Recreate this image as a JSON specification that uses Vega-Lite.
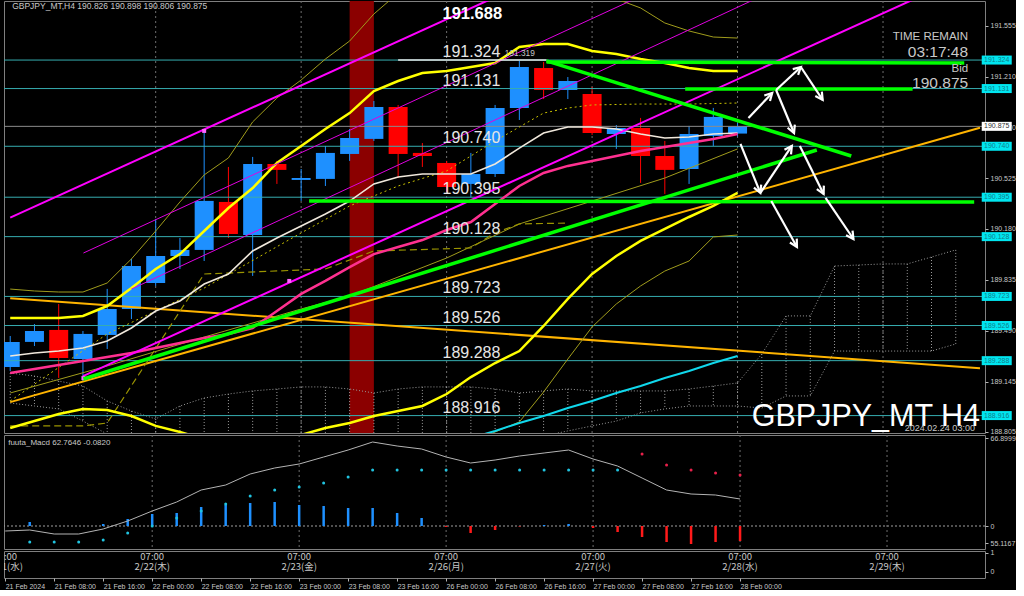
{
"$schema":"https://vega.github.io/schema/vega-lite/v6.json",
"background":"#000000",
"padding":{"left":2,"top":0,"right":0,"bottom":0},
"bounds":"flush",
"spacing":2,
"config":{"view":{"stroke":"#7f7f7f","strokeWidth":1},"text":{"font":"Liberation Sans"}},
"datasets":{
"band":[{"i":14,"i2":15}],
"vg":[{"i":6},{"i":12},{"i":18},{"i":24},{"i":30},{"i":36}],
"candles":[
{"i":0,"o":189.245,"h":189.455,"l":189.218,"c":189.415},
{"i":1,"o":189.415,"h":189.536,"l":189.387,"c":189.489},
{"i":2,"o":189.496,"h":189.672,"l":189.171,"c":189.306},
{"i":3,"o":189.299,"h":189.489,"l":189.150,"c":189.469},
{"i":4,"o":189.462,"h":189.774,"l":189.367,"c":189.638},
{"i":5,"o":189.638,"h":189.977,"l":189.570,"c":189.929},
{"i":6,"o":189.814,"h":190.248,"l":189.794,"c":189.997},
{"i":7,"o":189.997,"h":190.119,"l":189.909,"c":190.038},
{"i":8,"o":190.038,"h":190.844,"l":189.963,"c":190.370},
{"i":9,"o":190.363,"h":190.600,"l":190.119,"c":190.146},
{"i":10,"o":190.139,"h":190.668,"l":189.862,"c":190.620},
{"i":11,"o":190.620,"h":190.641,"l":190.485,"c":190.580},
{"i":12,"o":190.512,"h":190.586,"l":190.370,"c":190.525},
{"i":13,"o":190.519,"h":190.742,"l":190.471,"c":190.695},
{"i":14,"o":190.688,"h":190.857,"l":190.641,"c":190.796},
{"i":15,"o":190.790,"h":191.047,"l":190.776,"c":191.006},
{"i":16,"o":191.006,"h":191.020,"l":190.525,"c":190.688},
{"i":17,"o":190.695,"h":190.762,"l":190.600,"c":190.674},
{"i":18,"o":190.627,"h":190.641,"l":190.430,"c":190.464},
{"i":19,"o":190.485,"h":190.695,"l":190.395,"c":190.552},
{"i":20,"o":190.552,"h":191.020,"l":190.532,"c":190.999},
{"i":21,"o":190.999,"h":191.319,"l":190.918,"c":191.277},
{"i":22,"o":191.270,"h":191.311,"l":191.060,"c":191.121},
{"i":23,"o":191.121,"h":191.209,"l":191.060,"c":191.182},
{"i":24,"o":191.094,"h":191.142,"l":190.817,"c":190.830},
{"i":25,"o":190.823,"h":190.884,"l":190.722,"c":190.864},
{"i":26,"o":190.864,"h":190.932,"l":190.492,"c":190.674},
{"i":27,"o":190.674,"h":190.776,"l":190.417,"c":190.580},
{"i":28,"o":190.586,"h":190.878,"l":190.485,"c":190.823},
{"i":29,"o":190.810,"h":191.000,"l":190.742,"c":190.939},
{"i":30,"o":190.826,"h":190.898,"l":190.806,"c":190.875}
],
"cloud":[
{"i":0,"u":189.204,"l":189.001},{"i":1,"u":189.184,"l":188.981},{"i":2,"u":189.150,"l":188.961},{"i":3,"u":189.116,"l":188.879},
{"i":4,"u":189.015,"l":188.791},{"i":5,"u":188.947,"l":188.744},{"i":6,"u":188.893,"l":188.710},{"i":7,"u":188.981,"l":188.676},
{"i":8,"u":189.035,"l":188.676},{"i":9,"u":189.062,"l":188.676},{"i":10,"u":189.083,"l":188.676},{"i":11,"u":189.096,"l":188.676},
{"i":12,"u":189.110,"l":188.676},{"i":13,"u":189.110,"l":188.676},{"i":14,"u":189.096,"l":188.676},{"i":15,"u":189.069,"l":188.676},
{"i":16,"u":189.096,"l":188.676},{"i":17,"u":189.110,"l":188.676},{"i":18,"u":189.110,"l":188.676},{"i":19,"u":189.110,"l":188.676},
{"i":20,"u":189.096,"l":188.710},{"i":21,"u":189.069,"l":188.744},{"i":22,"u":189.083,"l":188.778},{"i":23,"u":189.096,"l":188.812},
{"i":24,"u":189.083,"l":188.846},{"i":25,"u":189.083,"l":188.879},{"i":26,"u":189.083,"l":188.934},{"i":27,"u":189.083,"l":188.961},
{"i":28,"u":189.096,"l":188.981},{"i":29,"u":189.116,"l":188.981},{"i":30,"u":189.137,"l":188.981},{"i":31,"u":189.333,"l":188.967},
{"i":32,"u":189.591,"l":189.049},{"i":33,"u":189.591,"l":189.049},{"i":34,"u":189.929,"l":189.353},{"i":35,"u":189.936,"l":189.353},
{"i":36,"u":189.943,"l":189.353},{"i":37,"u":189.943,"l":189.353},{"i":38,"u":189.990,"l":189.353},{"i":39,"u":190.038,"l":189.401}
],
"lv":[{"p":191.324,"t":"191.324"},{"p":191.131,"t":"191.131"},{"p":190.740,"t":"190.740"},{"p":190.395,"t":"190.395"},{"p":190.128,"t":"190.128"},{"p":189.723,"t":"189.723"},{"p":189.526,"t":"189.526"},{"p":189.288,"t":"189.288"},{"p":188.916,"t":"188.916"}],
"bid":[{"p":190.875}],
"bx":[{"p":191.324,"t":"191.324","k":"c"},{"p":191.131,"t":"191.131","k":"c"},{"p":190.875,"t":"190.875","k":"w"},{"p":190.740,"t":"190.740","k":"c"},{"p":190.395,"t":"190.395","k":"c"},{"p":190.128,"t":"190.128","k":"c"},{"p":189.723,"t":"189.723","k":"c"},{"p":189.526,"t":"189.526","k":"c"},{"p":189.288,"t":"189.288","k":"c"},{"p":188.916,"t":"188.916","k":"c"}],
"md":[{"i":8,"p":190.844},{"i":3.02,"p":189.170},{"i":11.51,"p":189.828}],
"heads":[{"i":31.43,"p":191.101,"a":43.8},{"i":32.61,"p":191.277,"a":47.4},{"i":33.51,"p":191.054,"a":146.3},{"i":32.33,"p":190.830,"a":157.3},{"i":30.94,"p":190.424,"a":157.8},{"i":32.24,"p":190.742,"a":34.2},{"i":33.55,"p":190.417,"a":153.4},{"i":34.78,"p":190.112,"a":145.7},{"i":32.45,"p":190.058,"a":150.5}],
"tx":[
{"k":"hd","i":0.08,"p":191.690,"t":"GBPJPY_MT,H4  190.826 190.898 190.806 190.875"},
{"k":"hi","i":17.83,"p":191.636,"t":"191.688"},
{"k":"sm","i":20.4,"p":191.365,"t":"191.319"},
{"k":"tr","i":39.51,"p":191.480,"t":"TIME REMAIN"},
{"k":"tb","i":39.51,"p":191.379,"t":"03:17:48"},
{"k":"tr","i":39.51,"p":191.263,"t":"Bid"},
{"k":"tb","i":39.51,"p":191.169,"t":"190.875"},
{"k":"big","i":40.0,"p":188.906,"t":"GBPJPY_MT H4"},
{"k":"dt","i":39.79,"p":188.832,"t":"2024.02.24 03:00"}
],
"lines":[
{"s":"ub","i":0,"p":189.577},{"s":"ub","i":1,"p":189.577},{"s":"ub","i":2,"p":189.577},{"s":"ub","i":3,"p":189.591},{"s":"ub","i":4,"p":189.658},{"s":"ub","i":5,"p":189.780},{"s":"ub","i":6,"p":189.909},{"s":"ub","i":7,"p":190.010},{"s":"ub","i":8,"p":190.166},{"s":"ub","i":9,"p":190.322},{"s":"ub","i":10,"p":190.457},{"s":"ub","i":11,"p":190.627},{"s":"ub","i":12,"p":190.742},{"s":"ub","i":13,"p":190.857},{"s":"ub","i":14,"p":190.965},{"s":"ub","i":15,"p":191.114},{"s":"ub","i":16,"p":191.182},{"s":"ub","i":17,"p":191.236},{"s":"ub","i":18,"p":191.250},{"s":"ub","i":19,"p":191.277},{"s":"ub","i":20,"p":191.304},{"s":"ub","i":21,"p":191.412},{"s":"ub","i":22,"p":191.433},{"s":"ub","i":23,"p":191.433},{"s":"ub","i":24,"p":191.385},{"s":"ub","i":25,"p":191.365},{"s":"ub","i":26,"p":191.331},{"s":"ub","i":27,"p":191.304},{"s":"ub","i":28,"p":191.270},{"s":"ub","i":29,"p":191.250},{"s":"ub","i":30,"p":191.250},
{"s":"lb","i":0,"p":188.832},{"s":"lb","i":1,"p":188.879},{"s":"lb","i":2,"p":188.927},{"s":"lb","i":3,"p":188.961},{"s":"lb","i":4,"p":188.954},{"s":"lb","i":5,"p":188.913},{"s":"lb","i":6,"p":188.846},{"s":"lb","i":7,"p":188.805},{"s":"lb","i":8,"p":188.757},{"s":"lb","i":9,"p":188.737},{"s":"lb","i":10,"p":188.730},{"s":"lb","i":11,"p":188.744},{"s":"lb","i":12,"p":188.785},{"s":"lb","i":13,"p":188.832},{"s":"lb","i":14,"p":188.866},{"s":"lb","i":15,"p":188.913},{"s":"lb","i":16,"p":188.947},{"s":"lb","i":17,"p":188.981},{"s":"lb","i":18,"p":189.062},{"s":"lb","i":19,"p":189.177},{"s":"lb","i":20,"p":189.272},{"s":"lb","i":21,"p":189.353},{"s":"lb","i":22,"p":189.523},{"s":"lb","i":23,"p":189.706},{"s":"lb","i":24,"p":189.875},{"s":"lb","i":25,"p":189.997},{"s":"lb","i":26,"p":190.099},{"s":"lb","i":27,"p":190.180},{"s":"lb","i":28,"p":190.261},{"s":"lb","i":29,"p":190.336},{"s":"lb","i":30,"p":190.424},
{"s":"ma","i":0,"p":189.320},{"s":"ma","i":1,"p":189.340},{"s":"ma","i":2,"p":189.353},{"s":"ma","i":3,"p":189.374},{"s":"ma","i":4,"p":189.421},{"s":"ma","i":5,"p":189.509},{"s":"ma","i":6,"p":189.624},{"s":"ma","i":7,"p":189.692},{"s":"ma","i":8,"p":189.807},{"s":"ma","i":9,"p":189.875},{"s":"ma","i":10,"p":190.031},{"s":"ma","i":11,"p":190.119},{"s":"ma","i":12,"p":190.200},{"s":"ma","i":13,"p":190.281},{"s":"ma","i":14,"p":190.369},{"s":"ma","i":15,"p":190.485},{"s":"ma","i":16,"p":190.532},{"s":"ma","i":17,"p":190.552},{"s":"ma","i":18,"p":190.552},{"s":"ma","i":19,"p":190.552},{"s":"ma","i":20,"p":190.620},{"s":"ma","i":21,"p":190.728},{"s":"ma","i":22,"p":190.830},{"s":"ma","i":23,"p":190.871},{"s":"ma","i":24,"p":190.871},{"s":"ma","i":25,"p":190.857},{"s":"ma","i":26,"p":190.823},{"s":"ma","i":27,"p":190.796},{"s":"ma","i":28,"p":190.803},{"s":"ma","i":29,"p":190.823},{"s":"ma","i":30,"p":190.830},
{"s":"pk","i":0,"p":189.204},{"s":"pk","i":1,"p":189.232},{"s":"pk","i":2,"p":189.259},{"s":"pk","i":3,"p":189.286},{"s":"pk","i":4,"p":189.313},{"s":"pk","i":5,"p":189.340},{"s":"pk","i":6,"p":189.374},{"s":"pk","i":7,"p":189.408},{"s":"pk","i":8,"p":189.442},{"s":"pk","i":9,"p":189.469},{"s":"pk","i":10,"p":189.509},{"s":"pk","i":11,"p":189.624},{"s":"pk","i":12,"p":189.740},{"s":"pk","i":13,"p":189.828},{"s":"pk","i":14,"p":189.922},{"s":"pk","i":15,"p":190.010},{"s":"pk","i":16,"p":190.058},{"s":"pk","i":17,"p":190.105},{"s":"pk","i":18,"p":190.173},{"s":"pk","i":19,"p":190.227},{"s":"pk","i":20,"p":190.349},{"s":"pk","i":21,"p":190.471},{"s":"pk","i":22,"p":190.559},{"s":"pk","i":23,"p":190.607},{"s":"pk","i":24,"p":190.640},{"s":"pk","i":25,"p":190.674},{"s":"pk","i":26,"p":190.708},{"s":"pk","i":27,"p":190.735},{"s":"pk","i":28,"p":190.762},{"s":"pk","i":29,"p":190.789},{"s":"pk","i":30,"p":190.823},
{"s":"uo","i":0,"p":189.773},{"s":"uo","i":1,"p":189.760},{"s":"uo","i":2,"p":189.753},{"s":"uo","i":3,"p":189.753},{"s":"uo","i":4,"p":189.814},{"s":"uo","i":5,"p":189.977},{"s":"uo","i":6,"p":190.166},{"s":"uo","i":7,"p":190.363},{"s":"uo","i":8,"p":190.546},{"s":"uo","i":9,"p":190.661},{"s":"uo","i":10,"p":190.905},{"s":"uo","i":11,"p":191.067},{"s":"uo","i":12,"p":191.189},{"s":"uo","i":13,"p":191.331},{"s":"uo","i":14,"p":191.453},{"s":"uo","i":15,"p":191.636},{"s":"uo","i":16,"p":191.778},{"s":"uo","i":17,"p":191.859},{"s":"uo","i":18,"p":191.893},{"s":"uo","i":19,"p":191.893},{"s":"uo","i":20,"p":191.893},{"s":"uo","i":21,"p":191.961},{"s":"uo","i":22,"p":191.961},{"s":"uo","i":23,"p":191.927},{"s":"uo","i":24,"p":191.826},{"s":"uo","i":25,"p":191.738},{"s":"uo","i":26,"p":191.677},{"s":"uo","i":27,"p":191.575},{"s":"uo","i":28,"p":191.521},{"s":"uo","i":29,"p":191.480},{"s":"uo","i":30,"p":191.473},
{"s":"lo","i":18,"p":188.676},{"s":"lo","i":19,"p":188.730},{"s":"lo","i":20,"p":188.805},{"s":"lo","i":21,"p":188.873},{"s":"lo","i":22,"p":189.076},{"s":"lo","i":23,"p":189.299},{"s":"lo","i":24,"p":189.516},{"s":"lo","i":25,"p":189.672},{"s":"lo","i":26,"p":189.794},{"s":"lo","i":27,"p":189.895},{"s":"lo","i":28,"p":189.963},{"s":"lo","i":29,"p":190.126},{"s":"lo","i":30,"p":190.139},
{"s":"mo","i":0,"p":189.069},{"s":"mo","i":4,"p":189.252},{"s":"mo","i":8,"p":189.448},{"s":"mo","i":12,"p":189.638},{"s":"mo","i":14,"p":189.726},{"s":"mo","i":18,"p":189.983},{"s":"mo","i":21,"p":190.214},{"s":"mo","i":24,"p":190.369},{"s":"mo","i":27,"p":190.525},{"s":"mo","i":30,"p":190.722},
{"s":"dy","i":0,"p":189.015},{"s":"dy","i":4,"p":189.469},{"s":"dy","i":8,"p":189.780},{"s":"dy","i":12,"p":190.153},{"s":"dy","i":14,"p":190.336},{"s":"dy","i":16,"p":190.471},{"s":"dy","i":18,"p":190.573},{"s":"dy","i":20,"p":190.776},{"s":"dy","i":22,"p":190.965},{"s":"dy","i":23,"p":190.999},{"s":"dy","i":24,"p":191.020},{"s":"dy","i":26,"p":191.026},{"s":"dy","i":28,"p":191.026},{"s":"dy","i":30,"p":191.033},
{"s":"do","i":0,"p":188.846},{"s":"do","i":3,"p":188.846},{"s":"do","i":4,"p":188.866},{"s":"do","i":8,"p":189.875},{"s":"do","i":13,"p":189.909},{"s":"do","i":15,"p":190.031},{"s":"do","i":19,"p":190.051},{"s":"do","i":20,"p":190.153},{"s":"do","i":21,"p":190.214},{"s":"do","i":23,"p":190.220},
{"s":"cy","i":19,"p":188.764},{"s":"cy","i":20,"p":188.812},{"s":"cy","i":21,"p":188.866},{"s":"cy","i":22,"p":188.913},{"s":"cy","i":23,"p":188.967},{"s":"cy","i":24,"p":189.015},{"s":"cy","i":25,"p":189.069},{"s":"cy","i":26,"p":189.116},{"s":"cy","i":27,"p":189.171},{"s":"cy","i":28,"p":189.218},{"s":"cy","i":29,"p":189.272},{"s":"cy","i":30,"p":189.320},
{"s":"m1","i":0,"p":190.257},{"s":"m1","i":22,"p":191.899},
{"s":"m2","i":3,"p":189.183},{"s":"m2","i":38,"p":191.790},
{"s":"m3","i":3.02,"p":190.017},{"s":"m3","i":27,"p":191.832},
{"s":"m4","i":5,"p":189.773},{"s":"m4","i":31,"p":191.758},
{"s":"o1","i":0,"p":189.711},{"s":"o1","i":40,"p":189.237},
{"s":"o2","i":0,"p":189.007},{"s":"o2","i":40,"p":190.865},
{"s":"g1","i":22.12,"p":191.311},{"s":"g1","i":39.35,"p":191.304},
{"s":"g2","i":27.84,"p":191.128},{"s":"g2","i":37.22,"p":191.128},
{"s":"g3","i":12.33,"p":190.369},{"s":"g3","i":39.76,"p":190.363},
{"s":"g4","i":22.12,"p":191.318},{"s":"g4","i":34.69,"p":190.674},
{"s":"g5","i":3.02,"p":189.164},{"s":"g5","i":33.27,"p":190.715},
{"s":"ws","i":16.0,"p":191.324},{"s":"ws","i":22.12,"p":191.324},
{"s":"aA","i":30.45,"p":190.932},{"s":"aA","i":31.43,"p":191.101},
{"s":"aB","i":31.59,"p":191.121},{"s":"aB","i":32.61,"p":191.277},
{"s":"aC","i":32.61,"p":191.277},{"s":"aC","i":33.51,"p":191.054},
{"s":"aD","i":31.59,"p":191.121},{"s":"aD","i":32.33,"p":190.830},
{"s":"aE","i":30.12,"p":190.756},{"s":"aE","i":30.94,"p":190.424},
{"s":"aF","i":30.94,"p":190.424},{"s":"aF","i":32.24,"p":190.742},
{"s":"aG","i":32.57,"p":190.742},{"s":"aG","i":33.55,"p":190.417},
{"s":"aH","i":33.63,"p":190.390},{"s":"aH","i":34.78,"p":190.112},
{"s":"aI","i":31.39,"p":190.369},{"s":"aI","i":32.45,"p":190.058}
],
"macd":[
{"i":0,"m":-5,"h":0},
{"i":1,"m":-4,"h":4,"sg":-16},{"i":2,"m":-8,"h":0,"sg":-16},{"i":3,"m":-8,"h":0,"sg":-16},{"i":4,"m":-3,"h":2,"sg":-14},{"i":5,"m":5,"h":7,"sg":-7},
{"i":6,"m":15,"h":12,"sg":0},{"i":7,"m":24,"h":13,"sg":8},{"i":8,"m":36,"h":19,"sg":15},{"i":9,"m":41,"h":21,"sg":22},{"i":10,"m":52,"h":23,"sg":30},
{"i":11,"m":58,"h":24,"sg":36},{"i":12,"m":62,"h":21,"sg":39},{"i":13,"m":69,"h":20,"sg":43},{"i":14,"m":76,"h":18,"sg":49},{"i":15,"m":84,"h":18,"sg":56},
{"i":16,"m":80,"h":13,"sg":56},{"i":17,"m":77,"h":8,"sg":56},{"i":18,"m":69,"h":-1,"sg":56},{"i":19,"m":63,"h":-7,"sg":56},{"i":20,"m":66,"h":-4,"sg":56},
{"i":21,"m":70,"h":-0.5,"sg":56},{"i":22,"m":73,"h":1,"sg":56},{"i":23,"m":76,"h":2,"sg":56},{"i":24,"m":67,"h":-2,"sg":56},{"i":25,"m":60,"h":-6,"sg":56},
{"i":26,"m":48,"h":-11,"sg":72},{"i":27,"m":36,"h":-16,"sg":61},{"i":28,"m":32,"h":-18,"sg":56},{"i":29,"m":31,"h":-16,"sg":53},{"i":30,"m":27,"h":-15,"sg":51}
],
"zr":[{"m":0}],
"mt":[{"i":0.12,"m":83,"t":"fuuta_Macd 62.7646  -0.0820"}],
"tl":[{"i":0,"t":"07:00","d":"2/21(水)"},{"i":6,"t":"07:00","d":"2/22(木)"},{"i":12,"t":"07:00","d":"2/23(金)"},{"i":18,"t":"07:00","d":"2/26(月)"},{"i":24,"t":"07:00","d":"2/27(火)"},{"i":30,"t":"07:00","d":"2/28(水)"},{"i":36,"t":"07:00","d":"2/29(木)"}]
},
"vconcat":[
{
"width":981,"height":432,
"layer":[
{"data":{"name":"lv"},"mark":{"type":"rule","color":"#36adb0","strokeWidth":1,"opacity":0},"encoding":{"y":{"field":"p","type":"quantitative","scale":{"domain":[188.798,191.724],"nice":false,"zero":false},"axis":{"orient":"right","title":null,"grid":false,"domain":false,"values":[191.555,191.385,191.21,191.04,190.87,190.695,190.525,190.35,190.18,190.005,189.835,189.665,189.49,189.32,189.145,188.975,188.805],"format":".3f","tickSize":3,"tickColor":"#b4b4b4","labelColor":"#c8c8c8","labelFont":"Liberation Sans","labelFontSize":7,"labelPadding":2,"labelOverlap":false,"labelFlush":false,"labelBound":false}}}},
{"data":{"name":"band"},"mark":{"type":"rect","color":"#8b0000"},"encoding":{"x":{"field":"i","type":"quantitative","scale":{"domain":[-0.05,40],"nice":false,"zero":false},"axis":null},"x2":{"field":"i2"},"y":{"datum":188.798,"type":"quantitative"},"y2":{"datum":191.724}}},
{"data":{"name":"vg"},"mark":{"type":"rule","color":"#6e6e6e","strokeDash":[2,3],"strokeWidth":1},"encoding":{"x":{"field":"i","type":"quantitative","scale":{"domain":[-0.05,40],"nice":false,"zero":false},"axis":null}}},
{"data":{"name":"candles"},"mark":{"type":"rule","clip":true,"strokeWidth":1},"encoding":{"x":{"field":"i","type":"quantitative","scale":{"domain":[-0.05,40],"nice":false,"zero":false},"axis":null},"y":{"field":"l","type":"quantitative"},"y2":{"field":"h"},"color":{"condition":{"test":"datum.c >= datum.o","value":"#1e90ff"},"value":"#ff0000"}}},
{"data":{"name":"candles"},"mark":{"type":"bar","clip":true,"size":19},"encoding":{"x":{"field":"i","type":"quantitative","scale":{"domain":[-0.05,40],"nice":false,"zero":false},"axis":null},"y":{"field":"o","type":"quantitative"},"y2":{"field":"c"},"color":{"condition":{"test":"datum.c >= datum.o","value":"#1e90ff"},"value":"#ff0000"}}},
{"data":{"name":"cloud"},"mark":{"type":"rule","clip":true,"color":"#9a9a9a","strokeDash":[1,2],"strokeWidth":1},"encoding":{"x":{"field":"i","type":"quantitative","scale":{"domain":[-0.05,40],"nice":false,"zero":false},"axis":null},"y":{"field":"u","type":"quantitative"},"y2":{"field":"l"}}},
{"data":{"name":"cloud"},"mark":{"type":"line","clip":true,"color":"#9a9a9a","strokeDash":[1,2],"strokeWidth":1},"encoding":{"x":{"field":"i","type":"quantitative","scale":{"domain":[-0.05,40],"nice":false,"zero":false},"axis":null},"y":{"field":"u","type":"quantitative"}}},
{"data":{"name":"cloud"},"mark":{"type":"line","clip":true,"color":"#9a9a9a","strokeDash":[1,2],"strokeWidth":1},"encoding":{"x":{"field":"i","type":"quantitative","scale":{"domain":[-0.05,40],"nice":false,"zero":false},"axis":null},"y":{"field":"l","type":"quantitative"}}},
{"data":{"name":"lv"},"mark":{"type":"rule","color":"#36adb0","strokeWidth":1},"encoding":{"y":{"field":"p","type":"quantitative"}}},
{"data":{"name":"bid"},"mark":{"type":"rule","color":"#8c8c8c","strokeWidth":1},"encoding":{"y":{"field":"p","type":"quantitative"}}},
{"data":{"name":"lines"},"transform":[{"filter":{"field":"s","oneOf":["o1","o2"]}}],"mark":{"type":"line","clip":true,"color":"#ffb400","strokeWidth":2},"encoding":{"x":{"field":"i","type":"quantitative","scale":{"domain":[-0.05,40],"nice":false,"zero":false},"axis":null},"y":{"field":"p","type":"quantitative"},"detail":{"field":"s"}}},
{"data":{"name":"lines"},"transform":[{"filter":{"field":"s","oneOf":["uo","lo","mo"]}}],"mark":{"type":"line","clip":true,"color":"#a09c1c","strokeWidth":1},"encoding":{"x":{"field":"i","type":"quantitative","scale":{"domain":[-0.05,40],"nice":false,"zero":false},"axis":null},"y":{"field":"p","type":"quantitative"},"detail":{"field":"s"}}},
{"data":{"name":"lines"},"transform":[{"filter":{"field":"s","equal":"dy"}}],"mark":{"type":"line","clip":true,"color":"#c8c000","strokeWidth":1,"strokeDash":[2,3]},"encoding":{"x":{"field":"i","type":"quantitative","scale":{"domain":[-0.05,40],"nice":false,"zero":false},"axis":null},"y":{"field":"p","type":"quantitative"}}},
{"data":{"name":"lines"},"transform":[{"filter":{"field":"s","equal":"do"}}],"mark":{"type":"line","clip":true,"color":"#9a9400","strokeWidth":1.2,"strokeDash":[7,4]},"encoding":{"x":{"field":"i","type":"quantitative","scale":{"domain":[-0.05,40],"nice":false,"zero":false},"axis":null},"y":{"field":"p","type":"quantitative"}}},
{"data":{"name":"lines"},"transform":[{"filter":{"field":"s","oneOf":["ub","lb"]}}],"mark":{"type":"line","clip":true,"color":"#ffff00","strokeWidth":2.5},"encoding":{"x":{"field":"i","type":"quantitative","scale":{"domain":[-0.05,40],"nice":false,"zero":false},"axis":null},"y":{"field":"p","type":"quantitative"},"detail":{"field":"s"}}},
{"data":{"name":"lines"},"transform":[{"filter":{"field":"s","equal":"ma"}}],"mark":{"type":"line","clip":true,"color":"#f0e8dc","strokeWidth":1.6},"encoding":{"x":{"field":"i","type":"quantitative","scale":{"domain":[-0.05,40],"nice":false,"zero":false},"axis":null},"y":{"field":"p","type":"quantitative"}}},
{"data":{"name":"lines"},"transform":[{"filter":{"field":"s","equal":"pk"}}],"mark":{"type":"line","clip":true,"color":"#ff3090","strokeWidth":2.5},"encoding":{"x":{"field":"i","type":"quantitative","scale":{"domain":[-0.05,40],"nice":false,"zero":false},"axis":null},"y":{"field":"p","type":"quantitative"}}},
{"data":{"name":"lines"},"transform":[{"filter":{"field":"s","oneOf":["m1","m2"]}}],"mark":{"type":"line","clip":true,"color":"#ff00ff","strokeWidth":2},"encoding":{"x":{"field":"i","type":"quantitative","scale":{"domain":[-0.05,40],"nice":false,"zero":false},"axis":null},"y":{"field":"p","type":"quantitative"},"detail":{"field":"s"}}},
{"data":{"name":"lines"},"transform":[{"filter":{"field":"s","oneOf":["m3","m4"]}}],"mark":{"type":"line","clip":true,"color":"#e000e0","strokeWidth":1},"encoding":{"x":{"field":"i","type":"quantitative","scale":{"domain":[-0.05,40],"nice":false,"zero":false},"axis":null},"y":{"field":"p","type":"quantitative"},"detail":{"field":"s"}}},
{"data":{"name":"lines"},"transform":[{"filter":{"field":"s","equal":"cy"}}],"mark":{"type":"line","clip":true,"color":"#10d8ec","strokeWidth":2},"encoding":{"x":{"field":"i","type":"quantitative","scale":{"domain":[-0.05,40],"nice":false,"zero":false},"axis":null},"y":{"field":"p","type":"quantitative"}}},
{"data":{"name":"md"},"mark":{"type":"point","shape":"square","filled":true,"size":16,"color":"#ff66ff","opacity":1},"encoding":{"x":{"field":"i","type":"quantitative","scale":{"domain":[-0.05,40],"nice":false,"zero":false},"axis":null},"y":{"field":"p","type":"quantitative"}}},
{"data":{"name":"lines"},"transform":[{"filter":{"field":"s","equal":"ws"}}],"mark":{"type":"line","clip":true,"color":"#e6e6e6","strokeWidth":1.5},"encoding":{"x":{"field":"i","type":"quantitative","scale":{"domain":[-0.05,40],"nice":false,"zero":false},"axis":null},"y":{"field":"p","type":"quantitative"}}},
{"data":{"name":"lines"},"transform":[{"filter":{"field":"s","oneOf":["g1","g2","g3","g4","g5"]}}],"mark":{"type":"line","clip":true,"color":"#00ff00","strokeWidth":3.5},"encoding":{"x":{"field":"i","type":"quantitative","scale":{"domain":[-0.05,40],"nice":false,"zero":false},"axis":null},"y":{"field":"p","type":"quantitative"},"detail":{"field":"s"}}},
{"data":{"name":"lines"},"transform":[{"filter":"indexof(datum.s,'a') == 0"}],"mark":{"type":"line","clip":true,"color":"#ffffff","strokeWidth":2.2},"encoding":{"x":{"field":"i","type":"quantitative","scale":{"domain":[-0.05,40],"nice":false,"zero":false},"axis":null},"y":{"field":"p","type":"quantitative"},"detail":{"field":"s"}}},
{"data":{"name":"heads"},"mark":{"type":"point","shape":"M-0.75,1.4L0,0L0.75,1.4","filled":false,"size":110,"stroke":"#ffffff","strokeWidth":2.2,"opacity":1},"encoding":{"x":{"field":"i","type":"quantitative","scale":{"domain":[-0.05,40],"nice":false,"zero":false},"axis":null},"y":{"field":"p","type":"quantitative"},"angle":{"field":"a","type":"quantitative","scale":null}}},
{"data":{"name":"lv"},"mark":{"type":"text","align":"left","baseline":"bottom","fontSize":16,"color":"#e6e6e6"},"encoding":{"x":{"datum":17.83,"type":"quantitative","scale":{"domain":[-0.05,40],"nice":false,"zero":false},"axis":null},"y":{"field":"p","type":"quantitative"},"text":{"field":"t"}}},
{"data":{"name":"tx"},"transform":[{"filter":{"field":"k","equal":"hd"}}],"mark":{"type":"text","align":"left","baseline":"middle","fontSize":8.5,"color":"#c8c8c8"},"encoding":{"x":{"field":"i","type":"quantitative","scale":{"domain":[-0.05,40],"nice":false,"zero":false},"axis":null},"y":{"field":"p","type":"quantitative"},"text":{"field":"t"}}},
{"data":{"name":"tx"},"transform":[{"filter":{"field":"k","equal":"hi"}}],"mark":{"type":"text","align":"left","baseline":"middle","fontSize":16.5,"fontWeight":"bold","color":"#ffffff"},"encoding":{"x":{"field":"i","type":"quantitative","scale":{"domain":[-0.05,40],"nice":false,"zero":false},"axis":null},"y":{"field":"p","type":"quantitative"},"text":{"field":"t"}}},
{"data":{"name":"tx"},"transform":[{"filter":{"field":"k","equal":"sm"}}],"mark":{"type":"text","align":"left","baseline":"middle","fontSize":8.3,"color":"#c8c8c8"},"encoding":{"x":{"field":"i","type":"quantitative","scale":{"domain":[-0.05,40],"nice":false,"zero":false},"axis":null},"y":{"field":"p","type":"quantitative"},"text":{"field":"t"}}},
{"data":{"name":"tx"},"transform":[{"filter":{"field":"k","equal":"tr"}}],"mark":{"type":"text","align":"right","baseline":"middle","fontSize":11.5,"color":"#c8c8c8"},"encoding":{"x":{"field":"i","type":"quantitative","scale":{"domain":[-0.05,40],"nice":false,"zero":false},"axis":null},"y":{"field":"p","type":"quantitative"},"text":{"field":"t"}}},
{"data":{"name":"tx"},"transform":[{"filter":{"field":"k","equal":"tb"}}],"mark":{"type":"text","align":"right","baseline":"middle","fontSize":15.5,"color":"#c8c8c8"},"encoding":{"x":{"field":"i","type":"quantitative","scale":{"domain":[-0.05,40],"nice":false,"zero":false},"axis":null},"y":{"field":"p","type":"quantitative"},"text":{"field":"t"}}},
{"data":{"name":"tx"},"transform":[{"filter":{"field":"k","equal":"big"}}],"mark":{"type":"text","align":"right","baseline":"middle","fontSize":30.5,"color":"#ffffff"},"encoding":{"x":{"field":"i","type":"quantitative","scale":{"domain":[-0.05,40],"nice":false,"zero":false},"axis":null},"y":{"field":"p","type":"quantitative"},"text":{"field":"t"}}},
{"data":{"name":"tx"},"transform":[{"filter":{"field":"k","equal":"dt"}}],"mark":{"type":"text","align":"right","baseline":"middle","fontSize":9,"color":"#c8c8c8"},"encoding":{"x":{"field":"i","type":"quantitative","scale":{"domain":[-0.05,40],"nice":false,"zero":false},"axis":null},"y":{"field":"p","type":"quantitative"},"text":{"field":"t"}}},
{"data":{"name":"bx"},"mark":{"type":"point","shape":"M-1,-0.3H1V0.3H-1Z","filled":true,"size":900,"opacity":1},"encoding":{"x":{"datum":40.69,"type":"quantitative","scale":{"domain":[-0.05,40],"nice":false,"zero":false},"axis":null},"y":{"field":"p","type":"quantitative"},"color":{"condition":{"test":"datum.k == 'w'","value":"#ffffff"},"value":"#00e6f0"}}},
{"data":{"name":"bx"},"mark":{"type":"text","align":"center","baseline":"middle","fontSize":7},"encoding":{"x":{"datum":40.69,"type":"quantitative","scale":{"domain":[-0.05,40],"nice":false,"zero":false},"axis":null},"y":{"field":"p","type":"quantitative"},"text":{"field":"t"},"color":{"condition":{"test":"datum.k == 'w'","value":"#333333"},"value":"#127d8a"}}}
]
},
{
"width":981,"height":114,
"layer":[
{"data":{"name":"zr"},"mark":{"type":"rule","color":"#a0a0a0","strokeDash":[2,2],"strokeWidth":1},"encoding":{"y":{"field":"m","type":"quantitative","scale":{"domain":[-23,91],"nice":false,"zero":false},"axis":{"orient":"right","title":null,"grid":false,"domain":false,"values":[88,0,-17],"labelExpr":"datum.value == 88 ? '66.8999' : (datum.value == 0 ? '0' : '55.1167')","tickSize":3,"tickColor":"#b4b4b4","labelColor":"#c8c8c8","labelFont":"Liberation Sans","labelFontSize":7,"labelPadding":2,"labelOverlap":false,"labelFlush":false,"labelBound":false}}}},
{"data":{"name":"vg"},"mark":{"type":"rule","color":"#6e6e6e","strokeDash":[2,3],"strokeWidth":1},"encoding":{"x":{"field":"i","type":"quantitative","scale":{"domain":[-0.05,40],"nice":false,"zero":false},"axis":null}}},
{"data":{"name":"macd"},"mark":{"type":"rule","strokeWidth":2.5},"encoding":{"x":{"field":"i","type":"quantitative","scale":{"domain":[-0.05,40],"nice":false,"zero":false},"axis":null},"y":{"field":"h","type":"quantitative"},"y2":{"datum":0},"color":{"condition":{"test":"datum.h >= 0","value":"#1e90ff"},"value":"#ff1a1a"}}},
{"data":{"name":"macd"},"mark":{"type":"line","color":"#b4b4b4","strokeWidth":1},"encoding":{"x":{"field":"i","type":"quantitative","scale":{"domain":[-0.05,40],"nice":false,"zero":false},"axis":null},"y":{"field":"m","type":"quantitative"}}},
{"data":{"name":"macd"},"mark":{"type":"point","filled":true,"size":9,"opacity":1},"encoding":{"x":{"field":"i","type":"quantitative","scale":{"domain":[-0.05,40],"nice":false,"zero":false},"axis":null},"y":{"field":"sg","type":"quantitative"},"color":{"condition":{"test":"datum.sg > datum.m","value":"#e8204a"},"value":"#20c4e0"}}},
{"data":{"name":"mt"},"mark":{"type":"text","align":"left","baseline":"middle","fontSize":8,"color":"#c8c8c8"},"encoding":{"x":{"field":"i","type":"quantitative","scale":{"domain":[-0.05,40],"nice":false,"zero":false},"axis":null},"y":{"field":"m","type":"quantitative"},"text":{"field":"t"}}}
]
},
{
"width":981,"height":27,
"layer":[
{"data":{"name":"tl"},"mark":{"type":"text","clip":true,"align":"center","baseline":"middle","fontSize":9.5,"font":"Noto Sans CJK JP","color":"#c8c8c8"},"encoding":{
"x":{"field":"i","type":"quantitative","scale":{"domain":[-0.05,40],"nice":false,"zero":false},"axis":{"orient":"bottom","title":null,"grid":false,"domain":false,"values":[0,2,4,6,8,10,12,14,16,18,20,22,24,26,28,30],"labelExpr":"['21 Feb 2024','21 Feb 08:00','21 Feb 16:00','22 Feb 00:00','22 Feb 08:00','22 Feb 16:00','23 Feb 00:00','23 Feb 08:00','23 Feb 16:00','26 Feb 00:00','26 Feb 08:00','26 Feb 16:00','27 Feb 00:00','27 Feb 08:00','27 Feb 16:00','28 Feb 00:00'][round(datum.value/2)]","labelAlign":"left","tickSize":3,"tickColor":"#b4b4b4","labelColor":"#c8c8c8","labelFont":"Liberation Sans","labelFontSize":7,"labelPadding":1,"labelOverlap":false,"labelFlush":false,"labelBound":false}},
"y":{"datum":0.81,"type":"quantitative","scale":{"domain":[-0.316,1.105],"nice":false,"zero":false},"axis":{"orient":"right","title":null,"grid":false,"domain":false,"values":[1,0],"format":"d","tickSize":3,"tickColor":"#b4b4b4","labelColor":"#c8c8c8","labelFont":"Liberation Sans","labelFontSize":7,"labelPadding":2,"labelOverlap":false,"labelFlush":false,"labelBound":false}},
"text":{"field":"t"}}},
{"data":{"name":"tl"},"mark":{"type":"text","clip":true,"align":"center","baseline":"middle","fontSize":9.5,"font":"Noto Sans CJK JP","color":"#c8c8c8"},"encoding":{
"x":{"field":"i","type":"quantitative","scale":{"domain":[-0.05,40],"nice":false,"zero":false},"axis":{"orient":"bottom","title":null,"grid":false,"domain":false,"values":[0,2,4,6,8,10,12,14,16,18,20,22,24,26,28,30],"labelExpr":"['21 Feb 2024','21 Feb 08:00','21 Feb 16:00','22 Feb 00:00','22 Feb 08:00','22 Feb 16:00','23 Feb 00:00','23 Feb 08:00','23 Feb 16:00','26 Feb 00:00','26 Feb 08:00','26 Feb 16:00','27 Feb 00:00','27 Feb 08:00','27 Feb 16:00','28 Feb 00:00'][round(datum.value/2)]","labelAlign":"left","tickSize":3,"tickColor":"#b4b4b4","labelColor":"#c8c8c8","labelFont":"Liberation Sans","labelFontSize":7,"labelPadding":1,"labelOverlap":false,"labelFlush":false,"labelBound":false}},
"y":{"datum":0.25,"type":"quantitative","scale":{"domain":[-0.316,1.105],"nice":false,"zero":false},"axis":{"orient":"right","title":null,"grid":false,"domain":false,"values":[1,0],"format":"d","tickSize":3,"tickColor":"#b4b4b4","labelColor":"#c8c8c8","labelFont":"Liberation Sans","labelFontSize":7,"labelPadding":2,"labelOverlap":false,"labelFlush":false,"labelBound":false}},
"text":{"field":"d"}}}
]
}
]
}
